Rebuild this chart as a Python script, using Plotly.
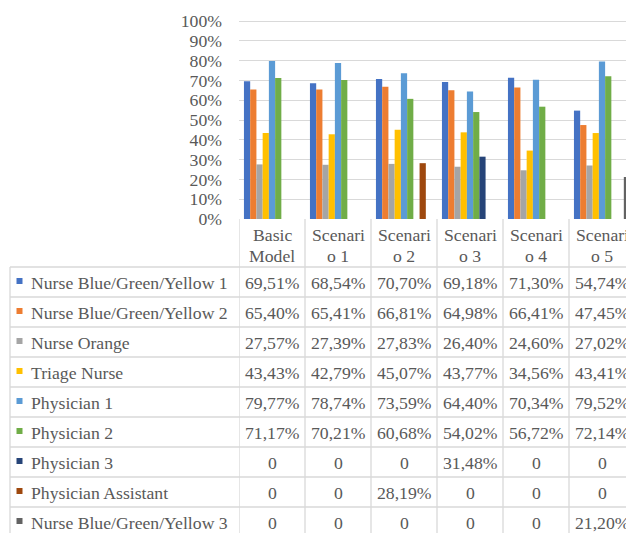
import plotly.graph_objects as go

# ---------------- data ----------------
categories = ["Basic Model", "Scenario 1", "Scenario 2", "Scenario 3", "Scenario 4", "Scenario 5"]
header_labels = [["Basic", "Model"], ["Scenari", "o 1"], ["Scenari", "o 2"],
                 ["Scenari", "o 3"], ["Scenari", "o 4"], ["Scenari", "o 5"]]

series_names = ["Nurse Blue/Green/Yellow 1", "Nurse Blue/Green/Yellow 2", "Nurse Orange",
                "Triage Nurse", "Physician 1", "Physician 2", "Physician 3",
                "Physician Assistant", "Nurse Blue/Green/Yellow 3"]

nurse_bgy1 = [69.51, 68.54, 70.70, 69.18, 71.30, 54.74]
nurse_bgy2 = [65.40, 65.41, 66.81, 64.98, 66.41, 47.45]
nurse_orange = [27.57, 27.39, 27.83, 26.40, 24.60, 27.02]
triage_nurse = [43.43, 42.79, 45.07, 43.77, 34.56, 43.41]
physician1 = [79.77, 78.74, 73.59, 64.40, 70.34, 79.52]
physician2 = [71.17, 70.21, 60.68, 54.02, 56.72, 72.14]
physician3 = [0, 0, 0, 31.48, 0, 0]
physician_assistant = [0, 0, 28.19, 0, 0, 0]
nurse_bgy3 = [0, 0, 0, 0, 0, 21.20]

series_values = [nurse_bgy1, nurse_bgy2, nurse_orange, triage_nurse, physician1,
                 physician2, physician3, physician_assistant, nurse_bgy3]

colors = ["#4472C4", "#ED7D31", "#A5A5A5", "#FFC000", "#5B9BD5",
          "#70AD47", "#264478", "#9E480E", "#636363"]

# ---------------- layout constants (pixels) ----------------
W, H = 626, 533
LEFT = 239          # left edge of plot area
TOP = 11            # top of plot area
BASE = 219          # pixel of 0%
PX_PER_UNIT = 198   # pixels for 100%
CATW = 66           # category width in px
ROW0 = 267          # first table row top
ROWH = 30
TABLE_LEFT = 10
FONT = "Liberation Serif, Times New Roman, serif"
TXT = "#595959"
FS = 17.7
LINE = "#D9D9D9"

plot_w = W - LEFT
plot_h = BASE - TOP


def py(p):
    return (BASE - p) / plot_h


def px(p):
    return (p - LEFT) / plot_w


def fmt(v):
    if v == 0:
        return "0"
    return ("%.2f" % v).replace(".", ",") + "%"


fig = go.Figure()
for name, vals, col in zip(series_names, series_values, colors):
    fig.add_trace(go.Bar(x=categories, y=[v / 100 for v in vals], name=name,
                         marker=dict(color=col, line=dict(width=0))))

shapes = []
annotations = []

# table horizontal lines
n_rows = len(series_names)
for k in range(n_rows + 1):
    yy = py(ROW0 + k * ROWH)
    shapes.append(dict(type="line", xref="paper", yref="paper", x0=px(TABLE_LEFT), x1=1.02,
                       y0=yy, y1=yy, line=dict(color=LINE, width=1.3)))
# vertical lines
y_bottom = py(ROW0 + n_rows * ROWH)
shapes.append(dict(type="line", xref="paper", yref="paper", x0=px(TABLE_LEFT), x1=px(TABLE_LEFT),
                   y0=py(ROW0), y1=y_bottom, line=dict(color=LINE, width=1.3)))
for i in range(len(categories)):
    xb = i - 0.5
    shapes.append(dict(type="line", xref="x", yref="paper", x0=xb, x1=xb,
                       y0=0, y1=y_bottom, line=dict(color=LINE, width=1.3)))

# header labels
for cat, lines in zip(categories, header_labels):
    for j, t in enumerate(lines):
        annotations.append(dict(x=cat, xref="x", yref="paper", y=py(235 + j * 21.3),
                                text=t, showarrow=False, xanchor="center", yanchor="middle",
                                font=dict(family=FONT, size=FS, color=TXT)))

# rows
for r, (name, vals, col) in enumerate(zip(series_names, series_values, colors)):
    cy = ROW0 + r * ROWH + ROWH / 2 + 1
    shapes.append(dict(type="rect", xref="paper", yref="paper",
                       x0=px(16.5), x1=px(22.5), y0=py(cy - 5), y1=py(cy + 1),
                       fillcolor=col, line=dict(width=0)))
    annotations.append(dict(x=px(29), xref="paper", yref="paper", y=py(cy),
                            text=name, showarrow=False, xanchor="left", yanchor="middle",
                            font=dict(family=FONT, size=FS, color=TXT)))
    for cat, v in zip(categories, vals):
        annotations.append(dict(x=cat, xref="x", yref="paper", y=py(cy),
                                text=fmt(v), showarrow=False, xanchor="center", yanchor="middle",
                                font=dict(family=FONT, size=FS, color=TXT)))

fig.update_layout(
    width=W, height=H,
    margin=dict(l=LEFT, r=0, t=TOP, b=H - BASE, pad=0),
    paper_bgcolor="white", plot_bgcolor="white",
    barmode="group", bargap=0.15, bargroupgap=0,
    showlegend=False,
    shapes=shapes, annotations=annotations,
    font=dict(family=FONT, size=FS, color=TXT),
)
fig.update_xaxes(type="category", range=[-0.5, -0.5 + plot_w / CATW],
                 showticklabels=False, showgrid=False, zeroline=False, showline=False,
                 fixedrange=True)
fig.update_yaxes(range=[0, plot_h / PX_PER_UNIT], tickmode="array",
                 tickvals=[i / 10 for i in range(11)], tickformat=".0%",
                 showgrid=True, gridcolor=LINE, gridwidth=1.3, zeroline=False,
                 showline=False, ticks="", ticklabelstandoff=16,
                 tickfont=dict(family=FONT, size=FS, color=TXT), fixedrange=True)

fig.write_html("out.html")
